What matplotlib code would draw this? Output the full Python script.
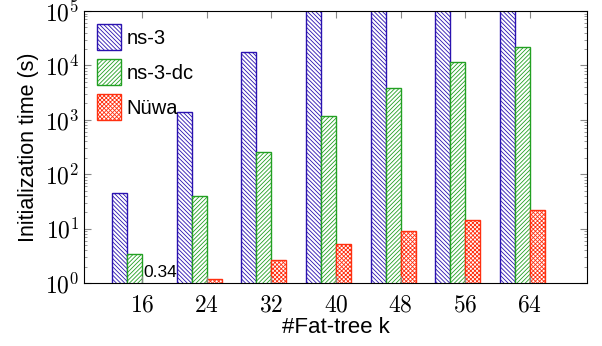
import matplotlib
matplotlib.use('Agg')
import matplotlib.pyplot as plt
import numpy as np

# Data
fat_tree_k = [16, 24, 32, 40, 48, 56, 64]
ns3 = [45, 1380, 17400, 2e5, 2e5, 2e5, 2e5]   # values past 1e5 are clipped in the chart
ns3_dc = [3.37, 40, 252, 1160, 3790, 11400, 21800]
nuwa = [0.34, 1.17, 2.7, 5.2, 9.0, 14.4, 21.7]
series_names = ['ns-3', 'ns-3-dc', 'Nüwa']

plt.rcParams['mathtext.fontset'] = 'cm'
plt.rcParams['hatch.linewidth'] = 0.6

fig = plt.figure(figsize=(6.02, 3.46), dpi=100)
ax = fig.add_axes([0.1395, 0.182, 0.8355, 0.786])

w = 1.86
styles = [
    dict(edgecolor='#2a12b0', hatch='\\' * 8),
    dict(edgecolor='#22a022', hatch='/' * 8),
    dict(edgecolor='#ff3010', hatch='x' * 8),
]
x = np.array(fat_tree_k, dtype=float)
for i, (vals, name, st) in enumerate(zip([ns3, ns3_dc, nuwa], series_names, styles)):
    ax.bar(x + (i - 1) * w - w / 2, vals, width=w, facecolor='white', linewidth=1.0,
           label=name, **st)

# small value note under the axis floor
ax.annotate('0.34', xy=(fat_tree_k[0], 1.0), xytext=(1, 2), textcoords='offset points',
            fontsize=12.5, family='Liberation Sans', ha='left', va='bottom')

ax.set_yscale('log')
ax.set_ylim(1, 1e5)
ax.set_xlim(8.8, 71.07)
ax.set_xticks(fat_tree_k)
ax.set_xticklabels(['$%d$' % k for k in fat_tree_k], fontsize=17)
ax.set_yticks([1, 10, 100, 1e3, 1e4, 1e5])
ax.set_yticklabels(['$10^{%d}$' % e for e in range(6)], fontsize=17)

ax.tick_params(which='both', direction='in', top=True, right=True, color='#888888')
ax.tick_params(which='major', length=5)
ax.tick_params(which='minor', length=2.5)
ax.tick_params(axis='x', which='minor', top=False, bottom=False)
ax.tick_params(axis='x', pad=7)

ax.set_xlabel('#Fat-tree k', fontsize=16, family='Liberation Sans', labelpad=0)
ax.set_ylabel('Initialization time (s)', fontsize=15.5, family='Liberation Sans', labelpad=4)

ax.legend(loc='upper left', frameon=False, prop={'family': 'Liberation Sans', 'size': 14.5},
          handlelength=1.2, handleheight=1.6, labelspacing=0.45, handletextpad=0.25,
          borderaxespad=0.25)

plt.savefig('out.png', dpi=100)
